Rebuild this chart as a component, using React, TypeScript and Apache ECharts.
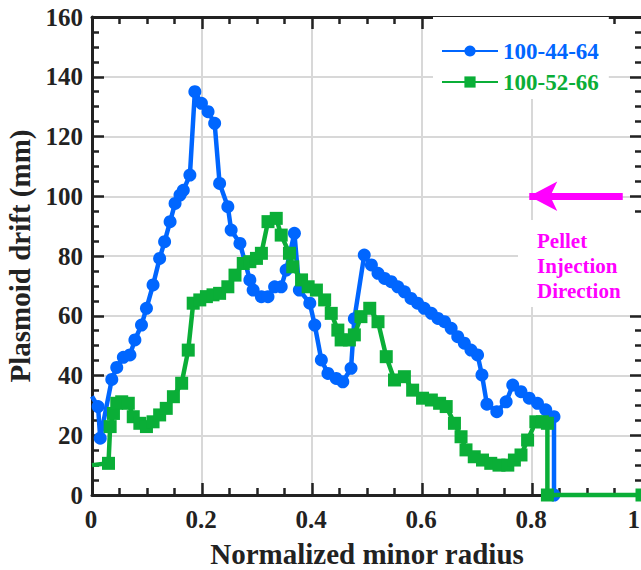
import React, { useEffect, useRef } from "react";
import * as echarts from "echarts";

const BLUE = "#0066ff";
const GREEN = "#0aae37";
const MAGENTA = "#ff00ff";
const INK = "#222222";
const FONT = "'Liberation Serif', 'Times New Roman', serif";

const seriesNames = ["100-44-64", "100-52-66"];

const xBlue = [0, 0.011, 0.015, 0.036, 0.045, 0.057, 0.069, 0.078, 0.09, 0.099, 0.111, 0.123, 0.132, 0.142, 0.151, 0.16, 0.166, 0.178, 0.187, 0.199, 0.211, 0.223, 0.232, 0.247, 0.253, 0.269, 0.287, 0.293, 0.308, 0.32, 0.332, 0.344, 0.353, 0.368, 0.377, 0.396, 0.405, 0.417, 0.429, 0.444, 0.456, 0.471, 0.477, 0.495, 0.508, 0.52, 0.532, 0.544, 0.556, 0.568, 0.58, 0.592, 0.604, 0.617, 0.629, 0.641, 0.653, 0.665, 0.677, 0.689, 0.701, 0.709, 0.718, 0.736, 0.753, 0.765, 0.78, 0.795, 0.81, 0.825, 0.84, 0.84];
const yBlue = [33, 29.6, 19, 38.7, 42.7, 46.1, 46.9, 51.9, 56.9, 62.5, 70.3, 79.2, 84.8, 91.5, 97.6, 100.4, 102, 107.1, 135, 131.1, 128.3, 124.4, 104.3, 96.5, 88.7, 84.2, 72, 68.6, 66.4, 66.4, 69.7, 69.7, 75.3, 87.6, 68.6, 64.2, 56.9, 45.2, 40.7, 39, 37.9, 42.4, 59, 80.3, 77, 74.2, 72.5, 71.4, 69.7, 68, 65.8, 64.2, 62.5, 60.8, 59.1, 58, 55.8, 53, 50.8, 48.5, 46.9, 40.2, 30.4, 27.9, 31.2, 36.8, 34.6, 32.4, 30.7, 28.5, 26.2, 0];

const xGreen = [0, 0.03, 0.033, 0.039, 0.045, 0.054, 0.066, 0.075, 0.087, 0.099, 0.111, 0.123, 0.135, 0.148, 0.163, 0.175, 0.184, 0.196, 0.208, 0.22, 0.232, 0.247, 0.26, 0.275, 0.287, 0.299, 0.308, 0.32, 0.335, 0.344, 0.359, 0.365, 0.381, 0.393, 0.408, 0.423, 0.435, 0.447, 0.453, 0.468, 0.477, 0.489, 0.505, 0.52, 0.535, 0.55, 0.568, 0.583, 0.601, 0.617, 0.632, 0.644, 0.659, 0.671, 0.68, 0.695, 0.71, 0.725, 0.74, 0.756, 0.768, 0.78, 0.792, 0.807, 0.819, 0.828, 0.828, 1];
const yGreen = [10, 10.6, 22.9, 27.3, 30.7, 31.2, 30.7, 26.2, 24, 22.9, 24.5, 26.8, 29, 32.9, 37.4, 48.5, 64.2, 65.3, 66.4, 67, 67.5, 69.7, 73.6, 77.5, 78.1, 79.2, 80.9, 91.5, 92.6, 87, 80.9, 76.4, 72, 69.7, 68.6, 65.3, 60.8, 55.2, 51.9, 51.9, 53.6, 59.7, 62.5, 58, 46.3, 38.5, 39.6, 35.1, 32.4, 31.8, 30.7, 29.6, 24, 19.5, 15.1, 12.8, 11.7, 10.6, 10, 10, 11.7, 13.4, 18.4, 24.5, 24.5, 24, 0, 0];

const arrowFrom = 0.965;
const arrowTo = 0.795;
const arrowLevel = 100;
const noteLines = ["Pellet", "Injection", "Direction"];

function toData(xs: number[], ys: number[]) {
  return xs.map((x, i) =>
    i === 0 ? { value: [x, ys[i]], symbol: "none" } : { value: [x, ys[i]] }
  );
}

export default function App() {
  const ref = useRef<HTMLDivElement>(null);
  useEffect(() => {
    if (!ref.current) return;
    const chart = echarts.init(ref.current, undefined, { renderer: "svg" });
    const axisCommon = {
      min: 0,
      axisLine: { show: true, onZero: false, lineStyle: { color: INK, width: 3 } },
      axisTick: { show: true, inside: true, length: 12, lineStyle: { color: INK, width: 2.5 } },
      minorTick: { show: true, splitNumber: 4, length: 7, lineStyle: { color: INK, width: 2.5 } },
    };
    const option: any = {
      animation: false,
      backgroundColor: "#ffffff",
      grid: {
        left: 92,
        width: 550,
        top: 17,
        height: 478,
        containLabel: false,
        outerBoundsMode: "none",
      },
      legend: {
        orient: "vertical",
        left: 433,
        top: 17,
        padding: [22, 10, 5, 8],
        backgroundColor: "#ffffff",
        itemWidth: 56,
        itemHeight: 14,
        itemGap: 7,
        data: [
          { name: seriesNames[0], textStyle: { color: BLUE } },
          { name: seriesNames[1], textStyle: { color: GREEN } },
        ],
        textStyle: { fontFamily: FONT, fontWeight: "bold", fontSize: 23, lineHeight: 24, padding: [0, 0, 0, 0] },
      },
      xAxis: [
        {
          ...axisCommon,
          type: "value",
          max: 1,
          interval: 0.2,
          position: "bottom",
          axisLabel: {
            color: INK,
            fontFamily: FONT,
            fontWeight: "bold",
            fontSize: 25,
            margin: 12,
            alignMaxLabel: "right",
            padding: [0, 2, 0, 0],
          },
          splitLine: { show: true, lineStyle: { color: "#d8d8d8", width: 2 } },
          name: "Normalized minor radius",
          nameLocation: "middle",
          nameGap: 44,
          nameTextStyle: { color: INK, fontFamily: FONT, fontWeight: "bold", fontSize: 29 },
        },
        {
          ...axisCommon,
          type: "value",
          max: 1,
          interval: 0.2,
          position: "top",
          axisLabel: { show: false },
          splitLine: { show: false },
        },
      ],
      yAxis: [
        {
          ...axisCommon,
          type: "value",
          max: 160,
          interval: 20,
          position: "left",
          axisLabel: { color: INK, fontFamily: FONT, fontWeight: "bold", fontSize: 25, margin: 9 },
          splitLine: { show: true, lineStyle: { color: "#d8d8d8", width: 2 } },
          name: "Plasmoid drift (mm)",
          nameLocation: "middle",
          nameGap: 50,
          nameTextStyle: { color: INK, fontFamily: FONT, fontWeight: "bold", fontSize: 29 },
        },
        {
          ...axisCommon,
          type: "value",
          max: 160,
          interval: 20,
          position: "right",
          axisLabel: { show: false },
          splitLine: { show: false },
        },
      ],
      series: [
        {
          name: seriesNames[0],
          type: "line",
          data: toData(xBlue, yBlue),
          symbol: "circle",
          symbolSize: 13,
          showAllSymbol: true,
          clip: false,
          lineStyle: { color: BLUE, width: 4.5 },
          itemStyle: { color: BLUE },
          z: 3,
        },
        {
          name: seriesNames[1],
          type: "line",
          data: toData(xGreen, yGreen),
          symbol: "rect",
          symbolSize: 13,
          showAllSymbol: true,
          clip: false,
          lineStyle: { color: GREEN, width: 4.5 },
          itemStyle: { color: GREEN },
          z: 4,
          markLine: {
            silent: true,
            symbol: ["none", "arrow"],
            symbolSize: [22, 28],
            label: { show: false },
            lineStyle: { color: MAGENTA, width: 7, type: "solid" },
            itemStyle: { color: MAGENTA },
            data: [[{ coord: [arrowFrom, arrowLevel] }, { coord: [arrowTo, arrowLevel] }]],
          },
        },
      ],
      graphic: [
        {
          type: "rect",
          left: 518,
          top: 220,
          shape: { width: 125, height: 87 },
          style: { fill: "#ffffff" },
          z: 5,
        },
        {
          type: "text",
          left: 537,
          top: 228,
          z: 6,
          style: {
            text: noteLines.join("\n"),
            fill: MAGENTA,
            font: `bold 21px ${FONT}`,
            lineHeight: 25,
            align: "center",
            width: 82,
          },
        },
      ],
    };
    chart.setOption(option);
    return () => chart.dispose();
  }, []);
  return (
    <div
      ref={ref}
      style={{ position: "absolute", left: 0, top: 0, width: 641, height: 570, overflow: "hidden" }}
    />
  );
}
